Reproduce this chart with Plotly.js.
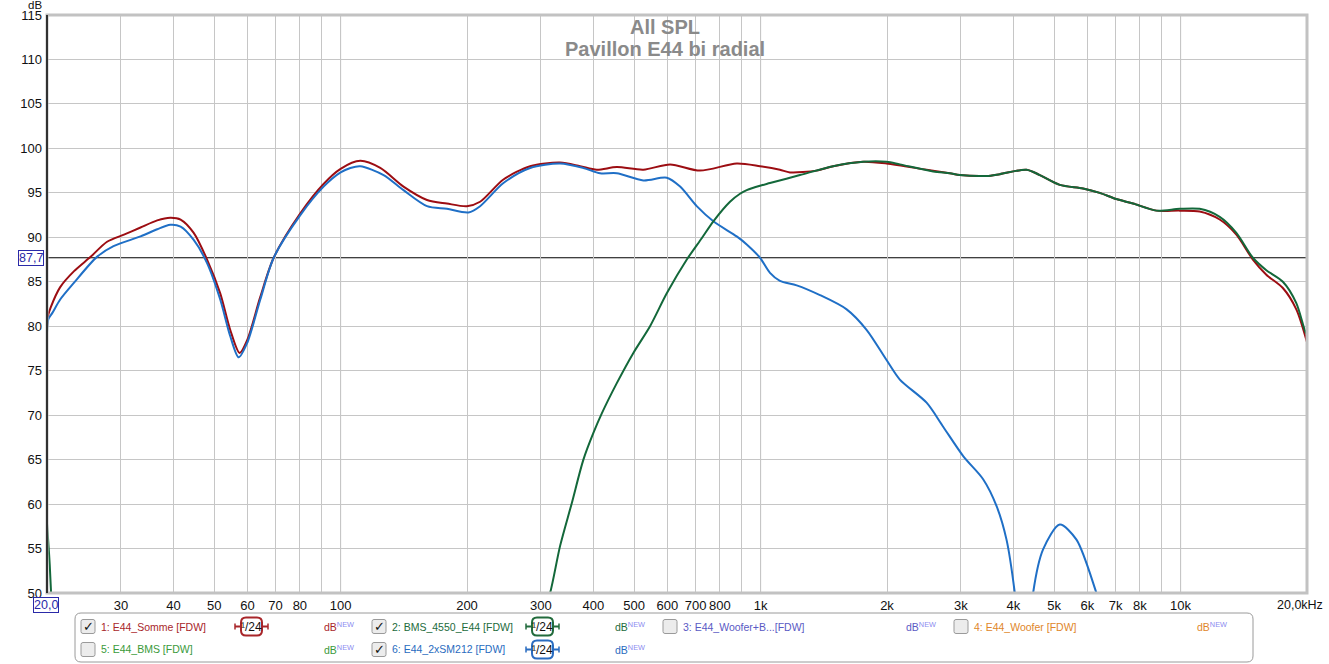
<!DOCTYPE html>
<html><head><meta charset="utf-8">
<script src="https://cdn.plot.ly/plotly-3.0.1.min.js"></script>
<style>html,body{margin:0;padding:0;background:#fff;overflow:hidden}#chart{width:1329px;height:664px;}</style>
</head><body><div id="chart"></div>
<script>
// ---------- DATA ----------
const sommeFreq = [20, 20.15, 20.4, 21.5, 23.2, 25.4, 27.8, 30.5, 33.4, 36.6, 39.3, 41.6, 44.7, 48.1, 51.7, 54.6, 57.5, 60, 64.4, 69.3, 80.2, 91.1, 100, 111.4, 124.3, 141.2, 160.6, 179.1, 199.8, 214.9, 244.2, 282.7, 333.2, 371.8, 407.4, 454.7, 526, 608.9, 717.5, 877.3, 996.8, 1112, 1175, 1360, 1489, 1755, 1995, 2485, 2822, 2982, 3451, 3712, 4297, 4622, 5157, 5859, 6420, 7035, 7704, 8758, 9952, 11105, 12392, 13578, 14865, 16002, 17521, 18862, 20000];
const sommeDb   = [79.8, 81.3, 82.1, 84.4, 86.2, 87.8, 89.5, 90.3, 91.1, 91.9, 92.2, 92.0, 90.5, 87.5, 83.7, 79.6, 77.0, 78.5, 83.3, 87.7, 92.7, 96.0, 97.7, 98.6, 97.8, 95.7, 94.2, 93.8, 93.5, 94.0, 96.5, 98.0, 98.4, 98.0, 97.6, 97.9, 97.6, 98.2, 97.5, 98.3, 98.0, 97.6, 97.3, 97.5, 98.0, 98.5, 98.3, 97.6, 97.2, 97.0, 96.9, 97.1, 97.6, 97.0, 95.9, 95.5, 95.0, 94.3, 93.8, 93.0, 93.0, 92.9, 92.0, 90.3, 87.5, 85.8, 84.3, 81.9, 78.2];

const bmsFreq = [20, 20.15, 20.3, 20.5, 21, 300, 315.4, 333.2, 355.2, 378.6, 399.9, 418.8, 454.7, 497.9, 545.6, 598, 667.4, 724.3, 772, 845.7, 893.4, 927, 997, 1053, 1241, 1489, 1755, 1995, 2146, 2576, 2822, 2982, 3451, 3712, 4297, 4622, 5157, 5859, 6420, 7035, 7704, 8758, 9952, 11105, 12392, 13578, 14865, 16002, 17521, 18862, 19740, 20000];
const bmsDb   = [57.8, 55.6, 53.2, 49.0, null, 47.0, 50.0, 55.3, 60.1, 65.0, 68.0, 70.2, 73.6, 77.0, 80.0, 83.7, 87.5, 89.9, 91.8, 94.0, 94.9, 95.3, 95.8, 96.1, 97.0, 98.0, 98.5, 98.5, 98.2, 97.4, 97.2, 97.0, 96.9, 97.1, 97.6, 97.0, 95.9, 95.5, 95.0, 94.3, 93.8, 93.0, 93.2, 93.2, 92.3, 90.5, 87.7, 86.3, 85.0, 82.6, 79.6, 79.0];

const smFreq = [20, 20.15, 20.6, 21.5, 23.2, 26.3, 28.8, 33.4, 36.6, 39.3, 41.6, 44.7, 48.1, 51.7, 54.6, 57.2, 59.9, 64.4, 69.3, 80.2, 91.1, 100, 105.5, 111.4, 126.6, 141.2, 160.6, 179.1, 201.6, 214.9, 244.2, 282.7, 333.2, 378.6, 414.9, 454.7, 526, 598, 643.3, 704.7, 771.9, 877.3, 927, 997, 1053, 1112, 1219, 1385, 1603, 1788, 1995, 2146, 2485, 2721, 3037, 3388, 3645, 3851, 4030, 4130, 4250, 4380, 4456, 4706, 5157, 5651, 6305, 6700, 7200];
const smDb   = [79.2, 80.8, 81.5, 83.0, 84.9, 87.8, 89.0, 90.1, 90.9, 91.4, 91.2, 89.7, 87.1, 83.0, 78.9, 76.5, 78.1, 83.0, 87.7, 92.5, 95.7, 97.3, 97.8, 98.0, 97.0, 95.3, 93.5, 93.2, 92.8, 93.5, 96.1, 97.8, 98.3, 97.8, 97.2, 97.2, 96.4, 96.7, 95.7, 93.5, 91.8, 90.1, 89.2, 87.7, 86.0, 85.1, 84.6, 83.5, 81.9, 79.6, 76.2, 74.0, 71.4, 68.7, 65.4, 62.8, 59.8, 56.0, 50.0, 45.0, 42.0, 45.0, 50.0, 54.9, 57.7, 56.0, 50.0, 46.0, 40.0];

const xTickVals = [30, 40, 50, 60, 70, 80, 100, 200, 300, 400, 500, 600, 700, 800, 1000, 2000, 3000, 4000, 5000, 6000, 7000, 8000, 10000];
const xTickText = ["30", "40", "50", "60", "70", "80", "100", "200", "300", "400", "500", "600", "700", "800", "1k", "2k", "3k", "4k", "5k", "6k", "7k", "8k", "10k"];
const xMinorGrid = [90, 900, 9000];
const yTickVals = [50, 55, 60, 65, 70, 75, 80, 85, 90, 95, 100, 105, 110, 115];
const yTickText = ["50", "55", "60", "65", "70", "75", "80", "85", "90", "95", "100", "105", "110", "115"];
const markerLevel = 87.7;
const majorFreqs = [100, 1000, 10000];
const titleLine1 = "All SPL";
const titleLine2 = "Pavillon E44 bi radial";

const legendLabels  = ["1: E44_Somme [FDW]", "2: BMS_4550_E44 [FDW]", "3: E44_Woofer+B...[FDW]", "4: E44_Woofer [FDW]", "5: E44_BMS [FDW]", "6: E44_2xSM212 [FDW]"];
const legendChecked = [true, true, false, false, false, true];
const legendColors  = ["#a8262a", "#226b3c", "#5a5ac4", "#e0862a", "#3a9a3a", "#2a6cc0"];

// ---------- STYLE / LAYOUT ----------
const L = 47, R = 1307, T = 15, B = 593;
const px = x => (x - L) / (R - L);
const py = y => (B - y) / (B - T);
const fx = f => (Math.log10(f) - Math.log10(20)) / 3;
const FONT = "Liberation Sans, Arial, sans-serif";

function rrect(x0, y0, x1, y1, r) {
  const X = px, Y = py;
  return `M${X(x0 + r)},${Y(y0)} L${X(x1 - r)},${Y(y0)} Q${X(x1)},${Y(y0)} ${X(x1)},${Y(y0 + r)} ` +
         `L${X(x1)},${Y(y1 - r)} Q${X(x1)},${Y(y1)} ${X(x1 - r)},${Y(y1)} L${X(x0 + r)},${Y(y1)} ` +
         `Q${X(x0)},${Y(y1)} ${X(x0)},${Y(y1 - r)} L${X(x0)},${Y(y0 + r)} Q${X(x0)},${Y(y0)} ${X(x0 + r)},${Y(y0)} Z`;
}

const traces = [
  {x: sommeFreq, y: sommeDb, name: legendLabels[0], line: {color: "#9c0d12", width: 2, shape: "spline", smoothing: 0.8}},
  {x: smFreq, y: smDb, name: legendLabels[5], line: {color: "#1f6fc6", width: 2, shape: "spline", smoothing: 0.8}},
  {x: bmsFreq, y: bmsDb, name: legendLabels[1], line: {color: "#13683a", width: 2, shape: "spline", smoothing: 0.8}}
].map(t => Object.assign(t, {type: "scatter", mode: "lines", hoverinfo: "skip", connectgaps: false}));

const shapes = [];
const annotations = [];

majorFreqs.forEach(f => shapes.push({type: "line", xref: "paper", yref: "paper", x0: fx(f), x1: fx(f), y0: 0, y1: 1,
  line: {color: "#8a8a8a", width: 1}, layer: "between"}));
shapes.push({type: "line", xref: "paper", yref: "y", x0: 0, x1: 1, y0: markerLevel, y1: markerLevel,
  line: {color: "#000", width: 1}, layer: "between"});
shapes.push({type: "rect", xref: "paper", yref: "paper", x0: 0, x1: 1, y0: 0, y1: 1, line: {color: "#c2c2c2", width: 3}, layer: "above"});
shapes.push({type: "line", xref: "paper", yref: "paper", x0: 0, x1: 0, y0: 0, y1: 1, line: {color: "#000", width: 1.5}, layer: "above"});

// subtitle line
annotations.push({xref: "paper", yref: "paper", x: px(665), y: py(49), xanchor: "center", yanchor: "middle", text: titleLine2,
  showarrow: false, font: {family: FONT, size: 20, color: "#8a8a8a", weight: "bold"}});

// boxed labels
annotations.push({xref: "paper", yref: "y", x: px(44), y: markerLevel, xanchor: "right", yanchor: "middle", text: "87,7",
  showarrow: false, font: {family: FONT, size: 12.5, color: "#2a2aa8"}, bordercolor: "#2a2aa8", borderwidth: 1, borderpad: 0, bgcolor: "#fff"});
annotations.push({xref: "paper", yref: "paper", x: px(46), y: py(605), xanchor: "center", yanchor: "middle", text: "20,0",
  showarrow: false, font: {family: FONT, size: 12.5, color: "#2a2aa8"}, bordercolor: "#2a2aa8", borderwidth: 1, borderpad: 0, bgcolor: "#fff"});
annotations.push({xref: "paper", yref: "paper", x: px(1300), y: py(605), xanchor: "center", yanchor: "middle", text: "20,0kHz",
  showarrow: false, font: {family: FONT, size: 12.5, color: "#111"}});
annotations.push({xref: "paper", yref: "paper", x: px(35), y: py(4.5), xanchor: "center", yanchor: "middle", text: "dB",
  showarrow: false, font: {family: FONT, size: 11.5, color: "#111"}, borderpad: 0});

// legend panel
shapes.push({type: "path", xref: "paper", yref: "paper", path: rrect(75, 613, 1253, 662, 6), line: {color: "#9a9a9a", width: 1}, fillcolor: "#fff", layer: "above"});
const colChk = [81, 372, 663, 954];
const colDb = [322, 613, 904, 1195];
const colBadge = [235, 526];
const slotCol = [0, 1, 2, 3, 0, 1];
const slotRow = [0, 0, 0, 0, 1, 1];
const rowY = [626.5, 649.5];
legendLabels.forEach((lab, i) => {
  const c = slotCol[i], yc = rowY[slotRow[i]], col = legendColors[i];
  const cx = colChk[c];
  shapes.push({type: "path", xref: "paper", yref: "paper", path: rrect(cx, yc - 7, cx + 14, yc + 7, 2), line: {color: "#9a9a9a", width: 1}, fillcolor: "#ececec", layer: "above"});
  if (legendChecked[i]) {
    annotations.push({xref: "paper", yref: "paper", x: px(cx + 7.5), y: py(yc), xanchor: "center", yanchor: "middle", text: "<b>✓</b>",
      showarrow: false, font: {family: "DejaVu Sans", size: 13, color: "#111"}});
    const bx = colBadge[c];
    shapes.push({type: "line", xref: "paper", yref: "paper", x0: px(bx), x1: px(bx + 33), y0: py(yc), y1: py(yc), line: {color: col, width: 2}, layer: "above"});
    shapes.push({type: "line", xref: "paper", yref: "paper", x0: px(bx), x1: px(bx), y0: py(yc - 3), y1: py(yc + 3), line: {color: col, width: 1.5}, layer: "above"});
    shapes.push({type: "line", xref: "paper", yref: "paper", x0: px(bx + 33), x1: px(bx + 33), y0: py(yc - 3), y1: py(yc + 3), line: {color: col, width: 1.5}, layer: "above"});
    shapes.push({type: "path", xref: "paper", yref: "paper", path: rrect(bx + 6, yc - 9, bx + 27, yc + 9, 5), line: {color: col, width: 2}, fillcolor: "#fff", layer: "above"});
    annotations.push({xref: "paper", yref: "paper", x: px(bx + 16.5), y: py(yc + 0.5), xanchor: "center", yanchor: "middle", text: "¹/24",
      showarrow: false, font: {family: FONT, size: 12, color: "#111"}});
  }
  annotations.push({xref: "paper", yref: "paper", x: px(cx + 18), y: py(yc), xanchor: "left", yanchor: "middle", text: lab,
    showarrow: false, font: {family: FONT, size: 10.5, color: col}});
  annotations.push({xref: "paper", yref: "paper", x: px(colDb[c]), y: py(yc), xanchor: "left", yanchor: "middle",
    text: 'dB<sup><span style="color:#8c8cf0">NEW</span></sup>', showarrow: false, font: {family: FONT, size: 10.5, color: col}});
});

const layout = {
  width: 1329, height: 664,
  margin: {l: L, r: 1329 - R, t: T, b: 664 - B, pad: 0},
  paper_bgcolor: "#fff", plot_bgcolor: "#fff",
  showlegend: false,
  title: {text: titleLine1, x: 665 / 1329, xanchor: "center", xref: "container",
    y: 1 - 27 / 664, yanchor: "middle", yref: "container",
    font: {family: FONT, size: 20, color: "#8a8a8a", weight: "bold"}},
  xaxis: {type: "log", range: [Math.log10(20), Math.log10(20000)], tickvals: xTickVals, ticktext: xTickText,
    showgrid: true, gridcolor: "#c6c6c6", gridwidth: 1, zeroline: false, showline: false, ticks: "",
    minor: {tickvals: xMinorGrid, showgrid: true, gridcolor: "#c6c6c6", gridwidth: 1, ticks: ""},
    ticklabelstandoff: 3,
    tickfont: {family: FONT, size: 13, color: "#111"}, fixedrange: true},
  yaxis: {range: [50, 115], tickvals: yTickVals, ticktext: yTickText, showgrid: true, gridcolor: "#c6c6c6", gridwidth: 1,
    zeroline: false, showline: false, ticks: "", ticklabelstandoff: 4,
    tickfont: {family: FONT, size: 13, color: "#111"}, fixedrange: true},
  shapes: shapes, annotations: annotations
};

Plotly.newPlot("chart", traces, layout, {staticPlot: true, displayModeBar: false});
</script>
</body></html>
